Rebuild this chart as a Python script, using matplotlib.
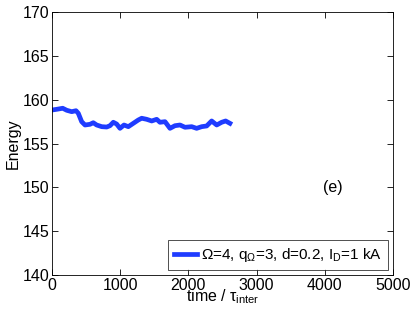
import matplotlib
matplotlib.use("Agg")
import matplotlib.pyplot as plt

plt.rcParams['font.family'] = ['Liberation Sans', 'DejaVu Sans']
plt.rcParams['mathtext.fontset'] = 'custom'
plt.rcParams['mathtext.rm'] = 'Liberation Sans'
plt.rcParams['mathtext.it'] = 'Liberation Sans'

time = [0, 69, 157, 216, 289, 352, 386, 435, 484, 557, 605, 655, 729, 802, 850, 899,
        948, 997, 1056, 1119, 1192, 1265, 1315, 1388, 1462, 1535, 1583, 1657, 1730,
        1803, 1877, 1950, 2048, 2121, 2195, 2268, 2341, 2415, 2488, 2546, 2609]
energy = [158.82, 158.90, 159.02, 158.79, 158.63, 158.74, 158.44, 157.49, 157.11,
          157.19, 157.37, 157.11, 156.92, 156.88, 157.03, 157.42, 157.22, 156.73,
          157.11, 156.92, 157.30, 157.68, 157.88, 157.76, 157.57, 157.76, 157.42,
          157.49, 156.73, 157.03, 157.11, 156.85, 156.92, 156.73, 156.92, 157.00,
          157.57, 157.11, 157.42, 157.57, 157.30]
legend_label = r'$\Omega$=4, q$_\Omega$=3, d=0.2, I$_\mathrm{D}$=1 kA'
xticks = [0, 1000, 2000, 3000, 4000, 5000]
yticks = [140, 145, 150, 155, 160, 165, 170]

fig = plt.figure(figsize=(4.15, 3.18), dpi=100)
ax = fig.add_axes([52/415, 1 - 275/318, (393-52)/415, (275-12)/318])
ax.plot(time, energy, color='#1f3cff', lw=3.4, label=legend_label)
ax.set_xlim(0, 5000)
ax.set_ylim(140, 170)
ax.set_xticks(xticks)
ax.set_yticks(yticks)
ax.tick_params(direction='in', top=True, right=True, labelsize=11.5, length=4, width=0.6, pad=2)
for s in ax.spines.values():
    s.set_linewidth(0.6)
ax.set_xlabel(r'time / $\tau_\mathrm{inter}$', fontsize=11.5, labelpad=-4)
ax.set_ylabel('Energy', fontsize=11.5, labelpad=1)
ax.text(4120, 150, '(e)', fontsize=11.5, ha='center', va='center')
leg = ax.legend(loc='lower right', fontsize=11, frameon=True, fancybox=False,
                borderaxespad=0.3, handlelength=1.5, handletextpad=0.3, borderpad=0.4)
leg.get_frame().set_edgecolor('black')
leg.get_frame().set_linewidth(0.6)
fig.savefig('out.png', dpi=100)
